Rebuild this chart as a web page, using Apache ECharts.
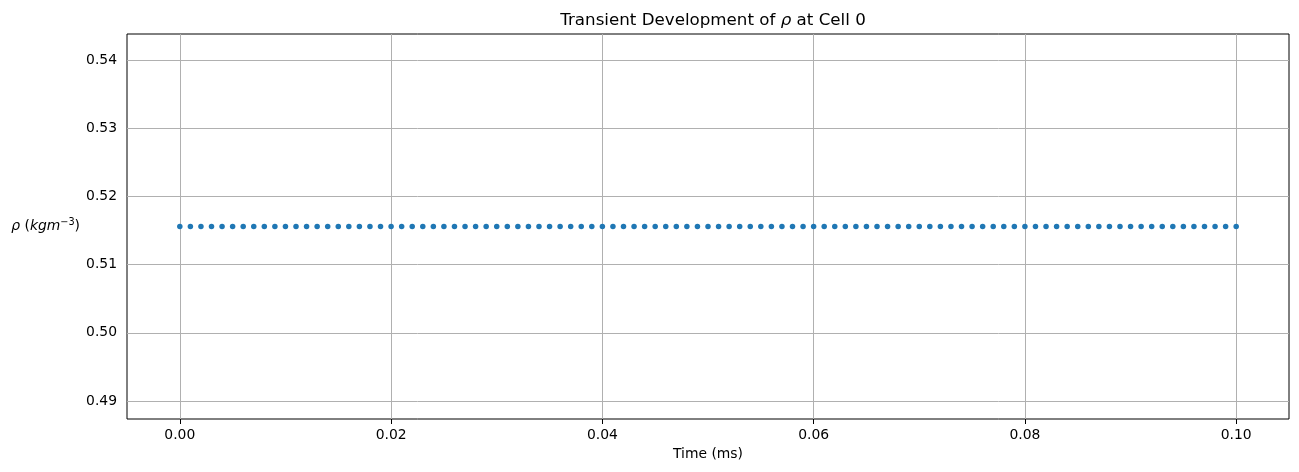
<!DOCTYPE html>
<html>
<head>
<meta charset="utf-8">
<script src="https://cdn.jsdelivr.net/npm/echarts@6/dist/echarts.min.js"></script>
<style>
  html, body { margin: 0; padding: 0; background: #fff; }
  #chart { width: 1299px; height: 472px; }
</style>
</head>
<body>
<div id="chart"></div>
<script>
// time samples (ms) and density at cell 0
var timeMs = [
  0.000, 0.001, 0.002, 0.003, 0.004, 0.005, 0.006, 0.007, 0.008, 0.009,
  0.010, 0.011, 0.012, 0.013, 0.014, 0.015, 0.016, 0.017, 0.018, 0.019,
  0.020, 0.021, 0.022, 0.023, 0.024, 0.025, 0.026, 0.027, 0.028, 0.029,
  0.030, 0.031, 0.032, 0.033, 0.034, 0.035, 0.036, 0.037, 0.038, 0.039,
  0.040, 0.041, 0.042, 0.043, 0.044, 0.045, 0.046, 0.047, 0.048, 0.049,
  0.050, 0.051, 0.052, 0.053, 0.054, 0.055, 0.056, 0.057, 0.058, 0.059,
  0.060, 0.061, 0.062, 0.063, 0.064, 0.065, 0.066, 0.067, 0.068, 0.069,
  0.070, 0.071, 0.072, 0.073, 0.074, 0.075, 0.076, 0.077, 0.078, 0.079,
  0.080, 0.081, 0.082, 0.083, 0.084, 0.085, 0.086, 0.087, 0.088, 0.089,
  0.090, 0.091, 0.092, 0.093, 0.094, 0.095, 0.096, 0.097, 0.098, 0.099,
  0.100
];
var rho = [
  0.5156, 0.5156, 0.5156, 0.5156, 0.5156, 0.5156, 0.5156, 0.5156, 0.5156, 0.5156,
  0.5156, 0.5156, 0.5156, 0.5156, 0.5156, 0.5156, 0.5156, 0.5156, 0.5156, 0.5156,
  0.5156, 0.5156, 0.5156, 0.5156, 0.5156, 0.5156, 0.5156, 0.5156, 0.5156, 0.5156,
  0.5156, 0.5156, 0.5156, 0.5156, 0.5156, 0.5156, 0.5156, 0.5156, 0.5156, 0.5156,
  0.5156, 0.5156, 0.5156, 0.5156, 0.5156, 0.5156, 0.5156, 0.5156, 0.5156, 0.5156,
  0.5156, 0.5156, 0.5156, 0.5156, 0.5156, 0.5156, 0.5156, 0.5156, 0.5156, 0.5156,
  0.5156, 0.5156, 0.5156, 0.5156, 0.5156, 0.5156, 0.5156, 0.5156, 0.5156, 0.5156,
  0.5156, 0.5156, 0.5156, 0.5156, 0.5156, 0.5156, 0.5156, 0.5156, 0.5156, 0.5156,
  0.5156, 0.5156, 0.5156, 0.5156, 0.5156, 0.5156, 0.5156, 0.5156, 0.5156, 0.5156,
  0.5156, 0.5156, 0.5156, 0.5156, 0.5156, 0.5156, 0.5156, 0.5156, 0.5156, 0.5156,
  0.5156
];
var xTicks = [0.00, 0.02, 0.04, 0.06, 0.08, 0.10];
var yTicks = [0.49, 0.50, 0.51, 0.52, 0.53, 0.54];

var FONT = 'DejaVu Sans';
var gridColor = '#b0b0b0';

var points = timeMs.map(function (t, i) { return [t, rho[i]]; });

// grid lines drawn at the tick values (axis min is not a tick multiple)
var gridLines = xTicks.map(function (v) { return { xAxis: v }; })
  .concat(yTicks.map(function (v) { return { yAxis: v }; }));

var myChart = echarts.init(document.getElementById('chart'));
myChart.setOption({
  animation: false,
  backgroundColor: '#fff',
  textStyle: { fontFamily: FONT },
  title: {
    text: 'Transient Development of {i|ρ} at Cell 0',
    left: 708,
    top: 7,
    textAlign: 'center',
    textStyle: {
      fontFamily: FONT,
      fontSize: 16.7,
      fontWeight: 'normal',
      color: '#000',
      rich: {
        i: { fontFamily: FONT, fontSize: 16.7, fontStyle: 'italic', color: '#000' }
      }
    }
  },
  grid: {
    left: 127,
    right: 10,
    top: 34,
    bottom: 53,
    show: true,
    borderColor: '#000',
    borderWidth: 1,
    containLabel: false
  },
  xAxis: {
    type: 'value',
    min: -0.005,
    max: 0.105,
    name: 'Time (ms)',
    nameLocation: 'middle',
    nameGap: 27,
    nameTextStyle: { fontFamily: FONT, fontSize: 13.9, color: '#000' },
    axisLine: { show: false },
    axisTick: {
      show: true,
      length: 5,
      lineStyle: { color: '#000' },
      customValues: xTicks
    },
    axisLabel: {
      fontFamily: FONT,
      fontSize: 13.9,
      color: '#000',
      margin: 9,
      customValues: xTicks,
      formatter: function (v) { return v.toFixed(2); }
    },
    splitLine: { show: false }
  },
  yAxis: {
    type: 'value',
    min: 0.48736,
    max: 0.54381,
    name: '{i|ρ} ({i|kgm}{sup|−3})',
    nameLocation: 'middle',
    nameRotate: 0,
    nameGap: 47,
    nameTextStyle: {
      fontFamily: FONT,
      fontSize: 13.9,
      color: '#000',
      rich: {
        i: { fontFamily: FONT, fontSize: 13.9, fontStyle: 'italic', color: '#000' },
        sup: { fontFamily: FONT, fontSize: 9.7, color: '#000', verticalAlign: 'top', padding: [0, 0, 8, 0] }
      }
    },
    axisLine: { show: false },
    axisTick: {
      show: true,
      length: 5,
      lineStyle: { color: '#000' },
      customValues: yTicks
    },
    axisLabel: {
      fontFamily: FONT,
      fontSize: 13.9,
      color: '#000',
      margin: 10,
      customValues: yTicks,
      formatter: function (v) { return v.toFixed(2); }
    },
    splitLine: { show: false }
  },
  series: [
    {
      name: 'rho',
      type: 'scatter',
      symbol: 'circle',
      symbolSize: 5.5,
      itemStyle: { color: '#1f77b4', opacity: 1 },
      data: points,
      z: 3,
      markLine: {
        silent: true,
        symbol: 'none',
        label: { show: false },
        lineStyle: { color: gridColor, width: 1, type: 'solid' },
        data: gridLines,
        z: 1
      }
    }
  ]
});
</script>
</body>
</html>
